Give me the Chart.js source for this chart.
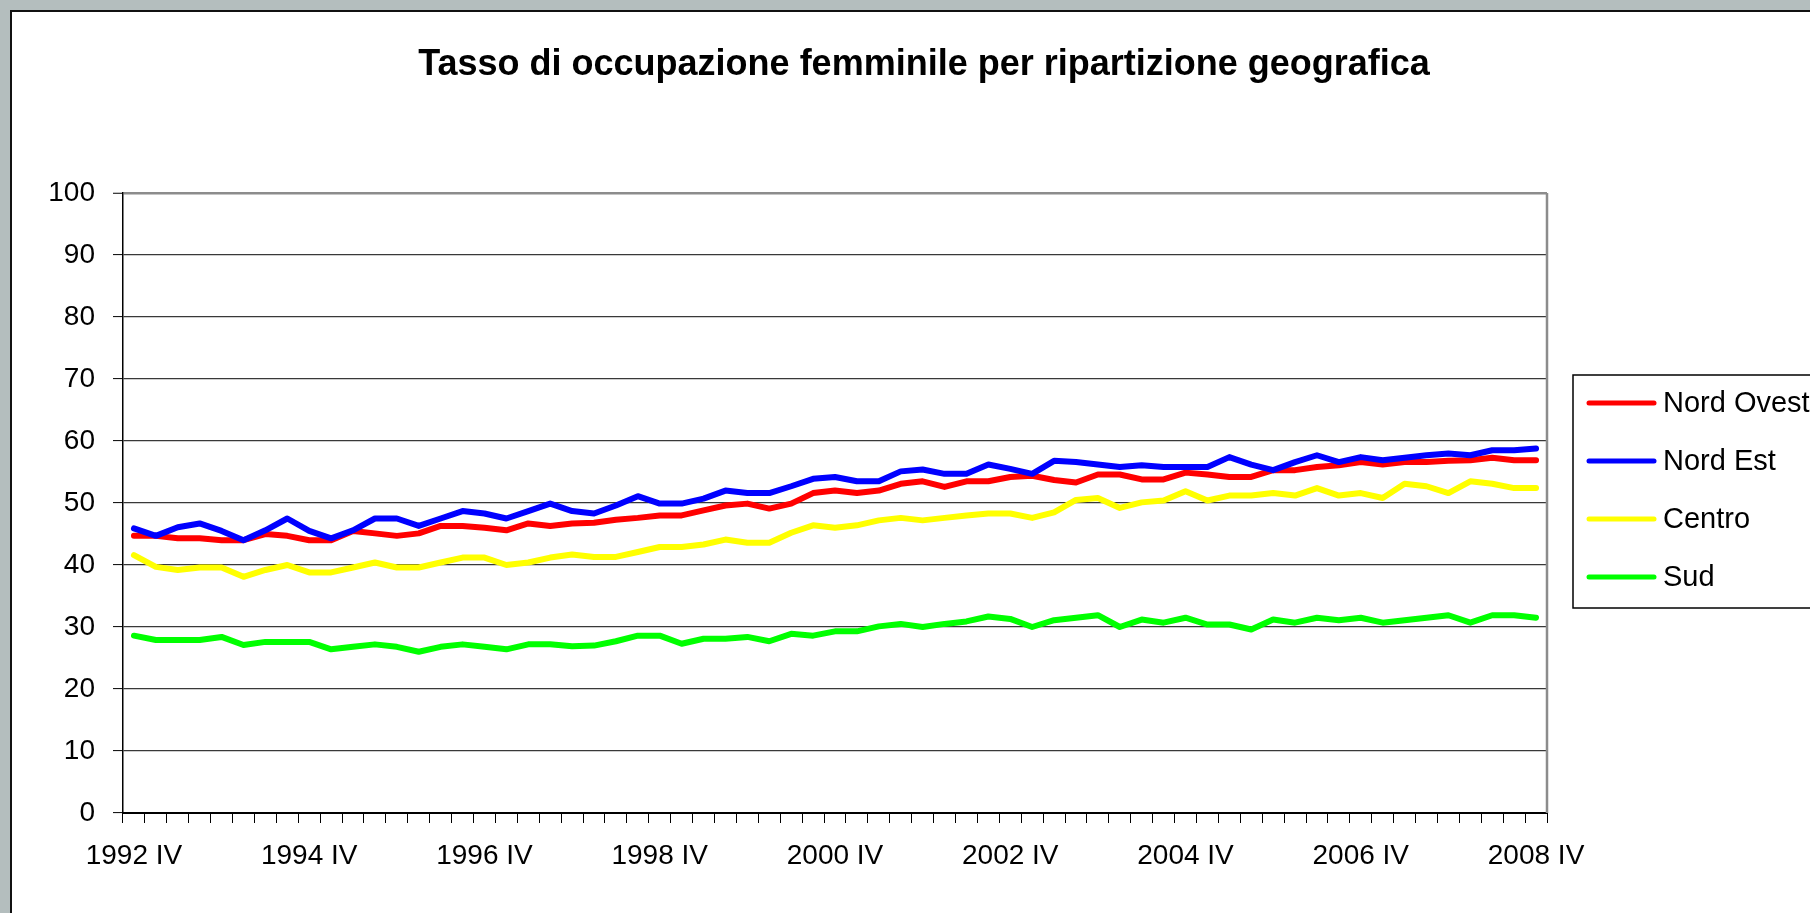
<!DOCTYPE html>
<html>
<head>
<meta charset="utf-8">
<title>Tasso di occupazione femminile per ripartizione geografica</title>
<script src="https://cdn.jsdelivr.net/npm/chart.js@4.4.0/dist/chart.umd.min.js"></script>
<style>
  html, body { margin: 0; padding: 0; background: #b4bebe; overflow: hidden; }
  canvas { display: block; }
</style>
</head>
<body>
<canvas id="occChart" width="1810" height="913"></canvas>
<script>
// Chart data
const chartTitle = 'Tasso di occupazione femminile per ripartizione geografica';

const quarters = [
  '1992 IV',
  '1993 I', '1993 II', '1993 III', '1993 IV',
  '1994 I', '1994 II', '1994 III', '1994 IV',
  '1995 I', '1995 II', '1995 III', '1995 IV',
  '1996 I', '1996 II', '1996 III', '1996 IV',
  '1997 I', '1997 II', '1997 III', '1997 IV',
  '1998 I', '1998 II', '1998 III', '1998 IV',
  '1999 I', '1999 II', '1999 III', '1999 IV',
  '2000 I', '2000 II', '2000 III', '2000 IV',
  '2001 I', '2001 II', '2001 III', '2001 IV',
  '2002 I', '2002 II', '2002 III', '2002 IV',
  '2003 I', '2003 II', '2003 III', '2003 IV',
  '2004 I', '2004 II', '2004 III', '2004 IV',
  '2005 I', '2005 II', '2005 III', '2005 IV',
  '2006 I', '2006 II', '2006 III', '2006 IV',
  '2007 I', '2007 II', '2007 III', '2007 IV',
  '2008 I', '2008 II', '2008 III', '2008 IV'
];

const nordOvest = [
  44.7, 44.7, 44.3, 44.3, 44.0, 44.0, 45.0, 44.7, 44.0, 44.0,
  45.5, 45.1, 44.7, 45.1, 46.3, 46.3, 46.0, 45.6, 46.7, 46.3,
  46.7, 46.8, 47.3, 47.6, 48.0, 48.0, 48.8, 49.6, 49.9, 49.1,
  49.9, 51.6, 52.0, 51.6, 52.0, 53.1, 53.5, 52.6, 53.5, 53.5,
  54.2, 54.4, 53.7, 53.3, 54.6, 54.6, 53.8, 53.8, 54.9, 54.6,
  54.2, 54.2, 55.3, 55.3, 55.8, 56.1, 56.6, 56.2, 56.6, 56.6,
  56.8, 56.9, 57.3, 56.9, 56.9
];

const nordEst = [
  45.9, 44.7, 46.1, 46.7, 45.5, 44.0, 45.6, 47.5, 45.5, 44.3,
  45.6, 47.5, 47.5, 46.3, 47.5, 48.7, 48.3, 47.5, 48.7, 49.9,
  48.7, 48.3, 49.6, 51.1, 49.9, 49.9, 50.7, 52.0, 51.6, 51.6,
  52.7, 53.9, 54.2, 53.5, 53.5, 55.1, 55.4, 54.7, 54.7, 56.2,
  55.5, 54.7, 56.8, 56.6, 56.2, 55.8, 56.1, 55.8, 55.8, 55.8,
  57.4, 56.2, 55.3, 56.6, 57.7, 56.6, 57.4, 56.9, 57.3, 57.7,
  58.0, 57.7, 58.5, 58.5, 58.8
];

const centro = [
  41.6, 39.7, 39.2, 39.6, 39.6, 38.1, 39.2, 40.0, 38.8, 38.8,
  39.6, 40.4, 39.6, 39.6, 40.4, 41.2, 41.2, 40.0, 40.4, 41.2,
  41.7, 41.3, 41.3, 42.1, 42.9, 42.9, 43.3, 44.1, 43.6, 43.6,
  45.2, 46.4, 46.0, 46.4, 47.2, 47.6, 47.2, 47.6, 48.0, 48.3,
  48.3, 47.6, 48.5, 50.5, 50.8, 49.2, 50.1, 50.4, 51.9, 50.4,
  51.2, 51.2, 51.6, 51.2, 52.4, 51.2, 51.6, 50.8, 53.1, 52.7,
  51.6, 53.5, 53.1, 52.4, 52.4
];

const sud = [
  28.6, 27.9, 27.9, 27.9, 28.4, 27.1, 27.6, 27.6, 27.6, 26.4,
  26.8, 27.2, 26.8, 26.0, 26.8, 27.2, 26.8, 26.4, 27.2, 27.2,
  26.9, 27.0, 27.7, 28.6, 28.6, 27.3, 28.1, 28.1, 28.4, 27.7,
  28.9, 28.6, 29.3, 29.3, 30.1, 30.5, 30.0, 30.5, 30.9, 31.7,
  31.3, 30.0, 31.1, 31.5, 31.9, 30.0, 31.2, 30.7, 31.5, 30.4,
  30.4, 29.6, 31.2, 30.7, 31.5, 31.1, 31.5, 30.7, 31.1, 31.5,
  31.9, 30.7, 31.9, 31.9, 31.5
];

const seriesNames = ['Nord Ovest', 'Nord Est', 'Centro', 'Sud'];
const seriesColors = ['#ff0000', '#0000ff', '#ffff00', '#00ff00'];
const yTicks = [0, 10, 20, 30, 40, 50, 60, 70, 80, 90, 100];

const FONT = "'Liberation Sans', Arial, sans-serif";

// grey window background + white sheet with dark edge
const backgroundPlugin = {
  id: 'sheetBackground',
  beforeDraw(chart) {
    const ctx = chart.ctx;
    ctx.save();
    ctx.fillStyle = '#b4bebe';
    ctx.fillRect(0, 0, chart.width, chart.height);
    ctx.fillStyle = '#ffffff';
    ctx.fillRect(11, 11, chart.width - 11, chart.height - 11);
    ctx.strokeStyle = '#111';
    ctx.lineWidth = 2;
    ctx.beginPath();
    ctx.moveTo(11, chart.height);
    ctx.lineTo(11, 11);
    ctx.lineTo(chart.width, 11);
    ctx.stroke();
    ctx.restore();
  }
};

// title, right plot border and the boxed legend on the right
const decorPlugin = {
  id: 'decor',
  afterDraw(chart) {
    const ctx = chart.ctx;
    const area = chart.chartArea;
    ctx.save();

    // right edge of the plot area
    ctx.strokeStyle = '#8c8c8c';
    ctx.lineWidth = 2.5;
    ctx.beginPath();
    ctx.moveTo(area.right, area.top);
    ctx.lineTo(area.right, area.bottom);
    ctx.stroke();

    // title
    ctx.fillStyle = '#000';
    ctx.font = "bold 36px " + FONT;
    ctx.textAlign = 'center';
    ctx.textBaseline = 'alphabetic';
    ctx.fillText(chartTitle, 924, 75);

    // legend box
    const boxX = 1573, boxY = 375, boxW = 260, boxH = 233;
    ctx.fillStyle = '#fff';
    ctx.fillRect(boxX, boxY, boxW, boxH);
    ctx.strokeStyle = '#000';
    ctx.lineWidth = 1.5;
    ctx.strokeRect(boxX, boxY, boxW, boxH);

    const rowY = [403, 461, 519, 577];
    ctx.font = "29px " + FONT;
    ctx.textAlign = 'left';
    ctx.textBaseline = 'middle';
    chart.data.datasets.forEach((ds, i) => {
      const y = rowY[i];
      ctx.strokeStyle = ds.borderColor;
      ctx.lineWidth = 5;
      ctx.lineCap = 'round';
      ctx.beginPath();
      ctx.moveTo(1589, y);
      ctx.lineTo(1654, y);
      ctx.stroke();
      ctx.fillStyle = '#000';
      ctx.fillText(ds.label, 1663, y + 1);
    });

    ctx.restore();
  }
};

const datasets = [nordOvest, nordEst, centro, sud].map((values, i) => ({
  label: seriesNames[i],
  data: values,
  borderColor: seriesColors[i],
  backgroundColor: seriesColors[i],
  borderWidth: 6,
  borderJoinStyle: 'round',
  borderCapStyle: 'round',
  pointRadius: 0,
  tension: 0,
  fill: false,
  order: 4 - i
}));

const occChart = new Chart(document.getElementById('occChart'), {
  type: 'line',
  data: {
    labels: quarters,
    datasets: datasets
  },
  options: {
    responsive: false,
    animation: false,
    layout: {
      padding: { top: 193, right: 263, bottom: 0, left: 0 }
    },
    plugins: {
      legend: { display: false },
      title: { display: false },
      tooltip: { enabled: false }
    },
    scales: {
      x: {
        type: 'category',
        offset: true,
        afterFit(scale) { scale.height = 100; },
        grid: {
          display: true,
          offset: true,
          drawOnChartArea: false,
          drawTicks: true,
          tickLength: 10,
          tickColor: '#000',
          tickWidth: 1
        },
        border: { display: true, color: '#000', width: 2 },
        ticks: {
          autoSkip: false,
          maxRotation: 0,
          minRotation: 0,
          padding: 16,
          color: '#000',
          font: { family: FONT, size: 28 },
          callback: function(val, idx) {
            return idx % 8 === 0 ? quarters[idx] : '';
          }
        }
      },
      y: {
        min: 0,
        max: 100,
        afterFit(scale) { scale.width = 123; },
        afterBuildTicks(scale) {
          scale.ticks = yTicks.map(v => ({ value: v }));
        },
        grid: {
          color: ctx => (ctx.tick && ctx.tick.value === 100) ? '#8c8c8c' : '#383838',
          lineWidth: ctx => (ctx.tick && ctx.tick.value === 100) ? 2.5 : 1.2,
          drawTicks: true,
          tickLength: 10,
          tickColor: '#000',
          tickWidth: 1
        },
        border: { display: true, color: '#000', width: 1.5 },
        ticks: {
          padding: 18,
          color: '#000',
          font: { family: FONT, size: 28 }
        }
      }
    }
  },
  plugins: [backgroundPlugin, decorPlugin]
});
</script>
</body>
</html>
